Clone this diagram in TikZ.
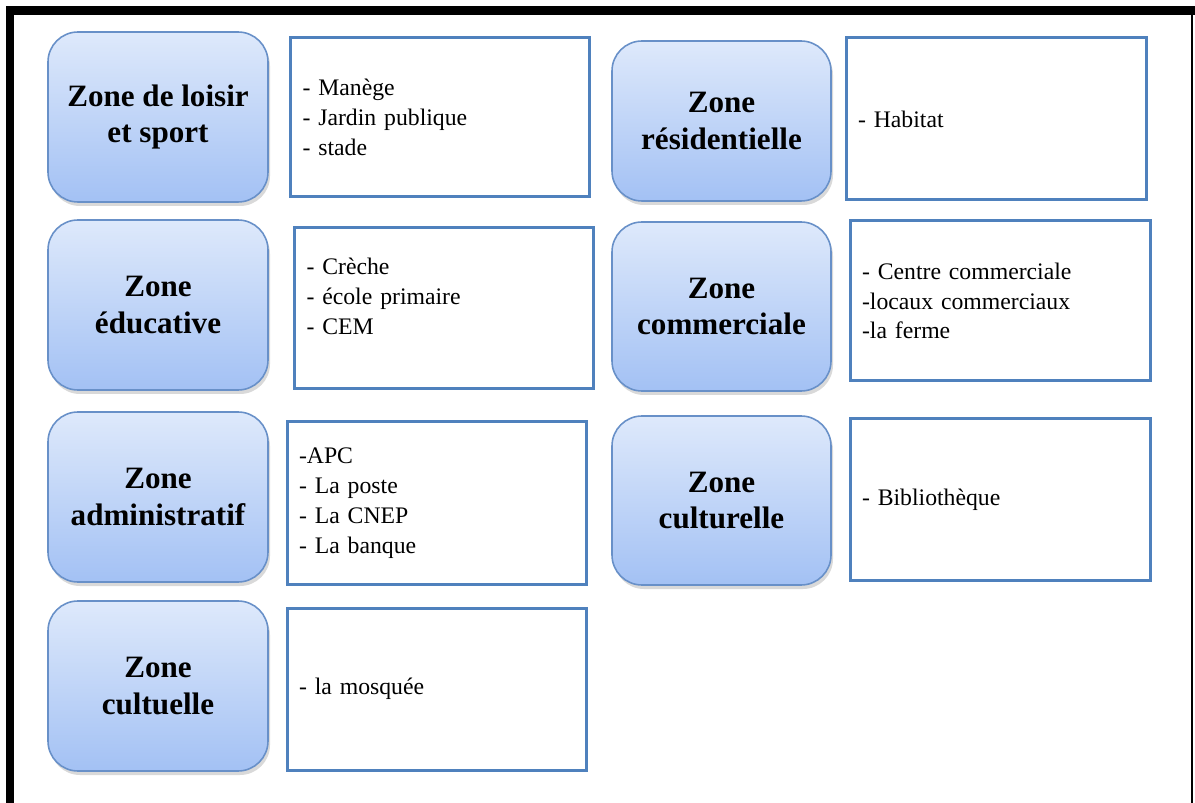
\documentclass[tikz,border=0pt]{standalone}
\usepackage{fontspec}
\setmainfont{Liberation Serif}
\usepackage{tikz}
\usetikzlibrary{shadows}
\definecolor{zonetop}{RGB}{222, 233, 251}
\definecolor{zonebottom}{RGB}{163, 193, 244}
\definecolor{zoneedge}{RGB}{104, 144, 200}
\definecolor{listedge}{RGB}{79, 129, 189}

\begin{document}
\begin{tikzpicture}[
    zone/.style={rounded corners=0.6cm, draw=zoneedge, line width=0.9pt, top color=zonetop, bottom color=zonebottom, drop shadow={shadow xshift=0.04cm, shadow yshift=-0.08cm, opacity=0.3}, minimum width=4.4cm, minimum height=3.4cm, align=center, font=\fontsize{17.7}{21}\selectfont\bfseries},
    list/.style={draw=listedge, line width=0.06cm, fill=white, inner xsep=0.24cm, text width=5.5cm, minimum height=3.22cm, align=left, font=\fontsize{13.5}{17}\selectfont}
]
\useasboundingbox (0, 0) rectangle (23.9, -16.06);
% frame
\fill[black] (0.12, -0.12) rectangle (23.9, -0.30);
\fill[black] (0.12, -0.12) rectangle (0.28, -16.06);
\draw[black, line width=0.05cm] (23.84, -0.2) -- (23.84, -16.06);

\node[zone] (zl) at (3.16, -2.34) {Zone de loisir\\et sport};
\node[zone] (ze) at (3.16, -6.10) {Zone\\éducative};
\node[zone] (za) at (3.16, -9.94) {Zone\\administratif};
\node[zone] (zc) at (3.16, -13.72) {Zone\\cultuelle};
\node[zone, minimum width=4.38cm, minimum height=3.2cm] (zr) at (14.43, -2.42) {Zone\\résidentielle};
\node[zone, minimum width=4.38cm, minimum height=3.38cm] (zm) at (14.43, -6.13) {Zone\\commerciale};
\node[zone, minimum width=4.38cm, minimum height=3.38cm] (zu) at (14.43, -10.01) {Zone\\culturelle};

\node[list, minimum height=3.18cm] (ll) at (8.80, -2.35) {- Manège\\- Jardin publique\\- stade};
\node[list, minimum height=3.22cm, text depth=1.67cm] (le) at (8.88, -6.17) {- Crèche\\- école primaire\\- CEM};
\node[list, minimum height=3.24cm] (la) at (8.73, -10.06) {-APC\\- La poste\\- La CNEP\\- La banque};
\node[list, minimum height=3.24cm] (lc) at (8.73, -13.78) {- la mosquée};
\node[list, text width=5.52cm, minimum height=3.24cm] (lr) at (19.92, -2.38) {- Habitat};
\node[list, text width=5.52cm, minimum height=3.2cm] (lm) at (20.00, -6.02) {- Centre commerciale\\-locaux commerciaux\\-la ferme};
\node[list, text width=5.52cm, minimum height=3.22cm] (lu) at (20.00, -9.99) {- Bibliothèque};
\end{tikzpicture}
\end{document}
